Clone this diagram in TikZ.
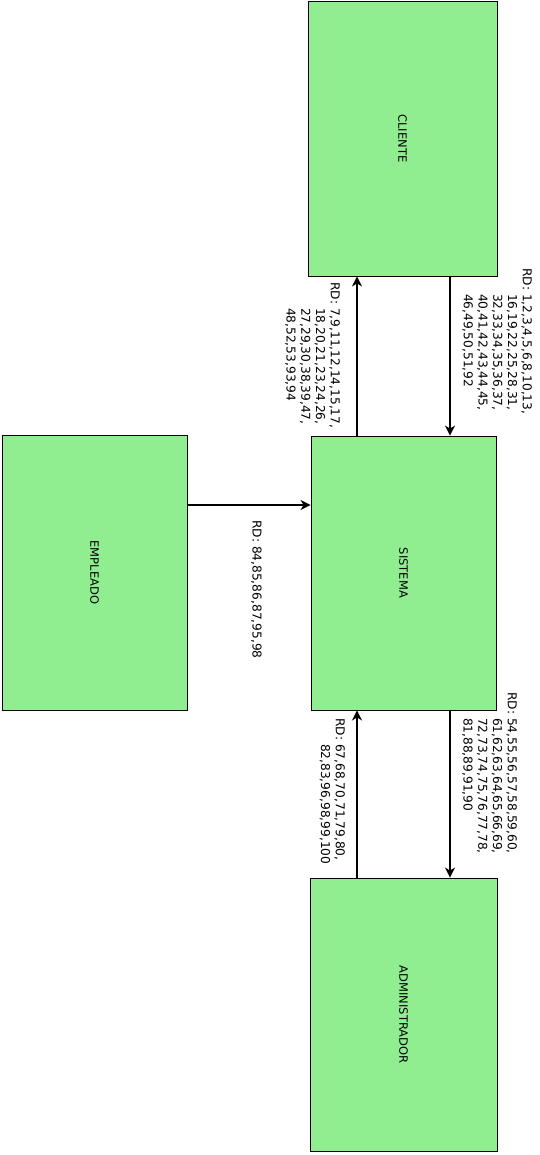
\documentclass[tikz,border=0pt]{standalone}
\usepackage{fontspec}
\setmainfont{DejaVu Sans}
\usetikzlibrary{arrows.meta}
\definecolor{boxgreen}{RGB}{144,238,144}
\tikzset{
  ent/.style={draw=black, line width=0.9pt, fill=boxgreen, inner sep=0pt},
  enttext/.style={rotate=-90, font=\fontsize{11.5}{14}\selectfont},
  arr/.style={line width=1.5pt, -{Stealth[length=10pt,width=10pt,inset=3pt]}},
  lbl/.style={rotate=-90, anchor=north west, inner sep=0pt, align=left,
    font=\fontsize{12.2}{14.7}\selectfont}
}
\begin{document}
\begin{tikzpicture}[x=1pt,y=-1pt]
\useasboundingbox[fill=white] (0,0) rectangle (539,1155);
\node[ent, minimum width=189pt, minimum height=275pt] (cliente) at (402.5,138.5) {};
\node[enttext] (tcli) at (cliente.center) {CLIENTE};
\node[ent, minimum width=185pt, minimum height=274pt] (sistema) at (403.5,573) {};
\node[enttext] (tsis) at (sistema.center) {SISTEMA};
\node[ent, minimum width=185pt, minimum height=275pt] (empleado) at (94.5,572.5) {};
\node[enttext] (temp) at (empleado.center) {EMPLEADO};
\node[ent, minimum width=187pt, minimum height=273pt] (admin) at (403.5,1014.5) {};
\node[enttext] (tadm) at (admin.center) {ADMINISTRADOR};
\coordinate (xl) at (357,0);
\coordinate (xr) at (450,0);
\coordinate (ye) at (0,505);
\draw[arr] (sistema.north -| xl) -- (cliente.south -| xl);
\draw[arr] (cliente.south -| xr) -- (sistema.north -| xr);
\draw[arr] (empleado.east |- ye) -- (sistema.west |- ye);
\draw[arr] (admin.north -| xl) -- (sistema.south -| xl);
\draw[arr] (sistema.south -| xr) -- (admin.north -| xr);
\node[lbl] (l1) at (340,282) {RD: 7,9,11,12,14,15,17,\\\hphantom{RD: }18,20,21,23,24,26,\\\hphantom{RD: }27,29,30,38,39,47,\\\hphantom{RD: }48,52,53,93,94};
\node[lbl] (l2) at (532,268) {RD: 1,2,3,4,5,6,8,10,13,\\\hphantom{RD: }16,19,22,25,28,31,\\\hphantom{RD: }32,33,34,35,36,37,\\\hphantom{RD: }40,41,42,43,44,45,\\\hphantom{RD: }46,49,50,51,92};
\node[lbl] (l3) at (262,520) {RD: 84,85,86,87,95,98};
\node[lbl] (l4) at (345,718) {RD: 67,68,70,71,79,80,\\\hphantom{RD: }82,83,96,98,99,100};
\node[lbl] (l5) at (517,692) {RD: 54,55,56,57,58,59,60,\\\hphantom{RD: }61,62,63,64,65,66,69,\\\hphantom{RD: }72,73,74,75,76,77,78,\\\hphantom{RD: }81,88,89,91,90};
\end{tikzpicture}
\end{document}
